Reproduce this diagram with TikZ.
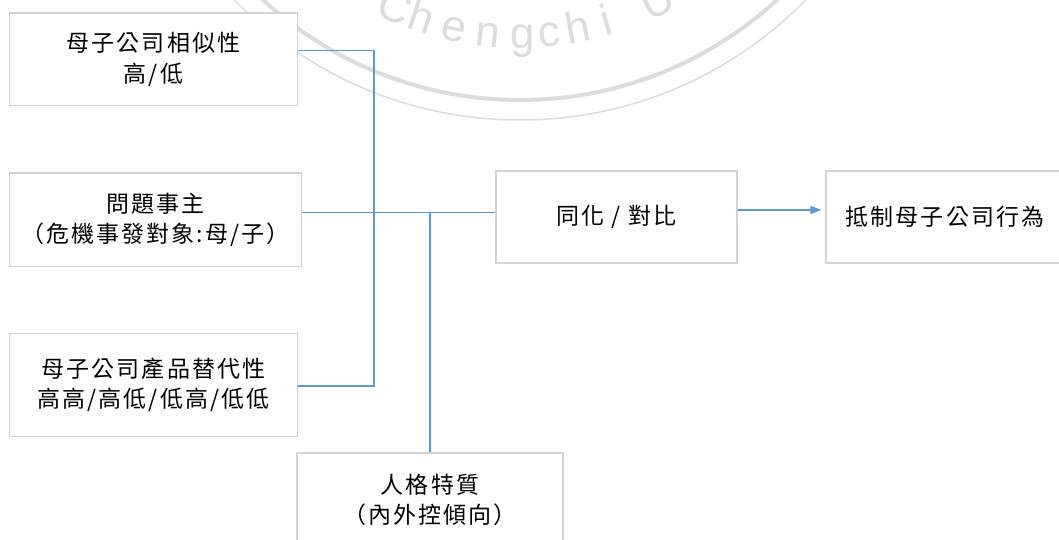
\documentclass[tikz,border=0pt]{standalone}
\usepackage{fontspec}
\setmainfont{Liberation Serif}
\newfontfamily\cjk[LetterSpace=9]{Noto Sans CJK TC}
\newfontfamily\wmfont{Liberation Sans}
\usetikzlibrary{arrows.meta}
\definecolor{lineblue}{HTML}{5B9BD5}
\definecolor{boxgray}{HTML}{D4D4D4}
\definecolor{wmgray}{HTML}{DCDCDC}
\begin{document}
\begin{tikzpicture}[x=1pt,y=1pt,
  box/.style={draw=boxgray, line width=1.3pt, fill=white, align=center, inner sep=0pt,
    font=\cjk\fontsize{23}{30.5}\selectfont},
  link/.style={draw=lineblue, line width=1.3pt},
  wmletter/.style={text=wmgray, font=\wmfont\fontsize{44}{44}\selectfont, anchor=base, inner sep=0pt}]
\useasboundingbox (0,0) rectangle (1059,-540);
\clip (0,0) rectangle (1059,-540);
\fill[white] (0,0) rectangle (1059,-540);
% watermark
\begin{scope}[shift={(520,280)}]
  \draw[wmgray, line width=4pt] (0,0) circle[radius=380pt];
  \draw[wmgray, line width=1.5pt] (0,0) circle[radius=400pt];
  \foreach \ch/\a in {C/246.5,h/251.8,e/258.0,n/264.2,g/270.4,c/275.3,h/280.6,i/285.9,U/296.0}
    \node[wmletter, rotate=\a+90] at (\a:328pt) {\ch};
\end{scope}
% boxes
\node[box, minimum width=288pt, minimum height=92.5pt] (A) at (153.5,-59.2) {母子公司相似性\\高/低};
\node[box, minimum width=292pt, minimum height=93.6pt] (B) at (155.5,-219.8) {問題事主\\（危機事發對象:母/子）};
\node[box, minimum width=288pt, minimum height=103pt] (C) at (153.5,-385) {母子公司產品替代性\\高高/高低/低高/低低};
\node[box, minimum width=266pt, minimum height=94pt] (D) at (430,-500) {人格特質\\（內外控傾向）};
\node[box, minimum width=241pt, minimum height=92pt] (E) at (616.5,-217) {同化 / 對比};
\node[box, minimum width=238pt, minimum height=92pt] (F) at (945,-217) {抵制母子公司行為};
% connectors
\coordinate (jt) at (374,-50.7);
\coordinate (jb) at (374,-386);
\coordinate (jm) at (430,-212.5);
\draw[link] ([yshift=8.5pt]A.east) -- (jt) -- (jb) -- ([yshift=-1pt]C.east);
\draw[link] ([yshift=7.3pt]B.east) -- ([yshift=4.5pt]E.west);
\draw[link] (jm) -- (D.north);
\draw[link, -{Triangle[length=11pt,width=8pt]}, shorten >=4pt] ([yshift=7pt]E.east) -- ([yshift=7pt]F.west);
\end{tikzpicture}
\end{document}
